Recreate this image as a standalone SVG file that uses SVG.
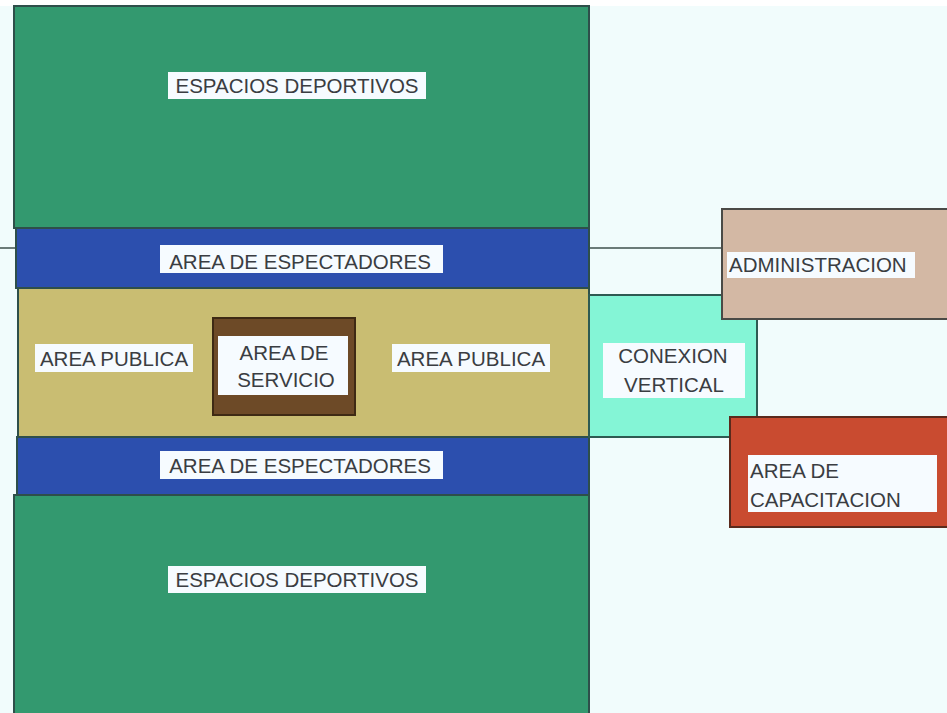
<svg xmlns="http://www.w3.org/2000/svg" width="947" height="713" viewBox="0 0 947 713">
<style>
.blk{stroke:#2e4f4a;stroke-width:2}
.lbl{fill:#f6fbff}
.t{font-family:"Liberation Sans",Arial,sans-serif;font-size:20.5px;fill:#3a3d42}
.c{text-anchor:middle}
</style>
<rect x="0" y="0" width="947" height="713" fill="#f1fcfc"/>
<rect x="0" y="0" width="947" height="6" fill="#ffffff"/>
<g id="connectors">
<line x1="0" y1="248" x2="722" y2="248" stroke="#6b7b78" stroke-width="2"/>
</g>
<g id="espacios-top">
<rect class="blk" x="14" y="6" width="575" height="222" fill="#33996f"/>
<rect class="lbl" x="168" y="72" width="258" height="27"/>
<text class="t c" x="297" y="93">ESPACIOS DEPORTIVOS</text>
</g>
<g id="espectadores-top">
<rect class="blk" x="16" y="228" width="573" height="60" fill="#2c4fae"/>
<rect class="lbl" x="160" y="245" width="283" height="28"/>
<text class="t c" x="300" y="269">AREA DE ESPECTADORES</text>
</g>
<g id="area-publica">
<rect class="blk" x="18" y="288" width="571" height="149" fill="#c9bd72"/>
<rect class="lbl" x="35" y="344" width="158" height="28"/>
<text class="t c" x="114" y="366">AREA PUBLICA</text>
<rect class="lbl" x="392" y="344" width="158" height="28"/>
<text class="t c" x="471" y="366">AREA PUBLICA</text>
</g>
<g id="area-servicio">
<rect x="213" y="318" width="142" height="97" fill="#6d4a27" stroke="#3e2a14" stroke-width="2"/>
<rect class="lbl" x="218" y="336" width="130" height="59"/>
<text class="t c" x="284" y="360">AREA DE</text>
<text class="t c" x="286" y="387">SERVICIO</text>
</g>
<g id="espectadores-bottom">
<rect class="blk" x="17" y="437" width="572" height="58" fill="#2c4fae"/>
<rect class="lbl" x="160" y="451" width="283" height="28"/>
<text class="t c" x="300" y="473">AREA DE ESPECTADORES</text>
</g>
<g id="espacios-bottom">
<rect class="blk" x="14" y="495" width="575" height="220" fill="#33996f"/>
<rect class="lbl" x="168" y="566" width="258" height="27"/>
<text class="t c" x="297" y="587">ESPACIOS DEPORTIVOS</text>
</g>
<g id="conexion-vertical">
<rect x="589" y="295" width="168" height="142" fill="#84f5d6" stroke="#2e5a52" stroke-width="2"/>
<rect class="lbl" x="603" y="343" width="142" height="55"/>
<text class="t c" x="673" y="363">CONEXION</text>
<text class="t c" x="674" y="392">VERTICAL</text>
</g>
<g id="administracion">
<rect x="722" y="209" width="226" height="110" fill="#d3b8a4" stroke="#4a4a46" stroke-width="2"/>
<rect class="lbl" x="727" y="252" width="188" height="26"/>
<text class="t" x="729" y="272">ADMINISTRACION</text>
</g>
<g id="area-capacitacion">
<rect x="730" y="417" width="218" height="110" fill="#c94b30" stroke="#5a2a1c" stroke-width="2"/>
<rect class="lbl" x="748" y="455" width="189" height="57"/>
<text class="t" x="750" y="478">AREA DE</text>
<text class="t" x="750" y="507">CAPACITACION</text>
</g>
</svg>
